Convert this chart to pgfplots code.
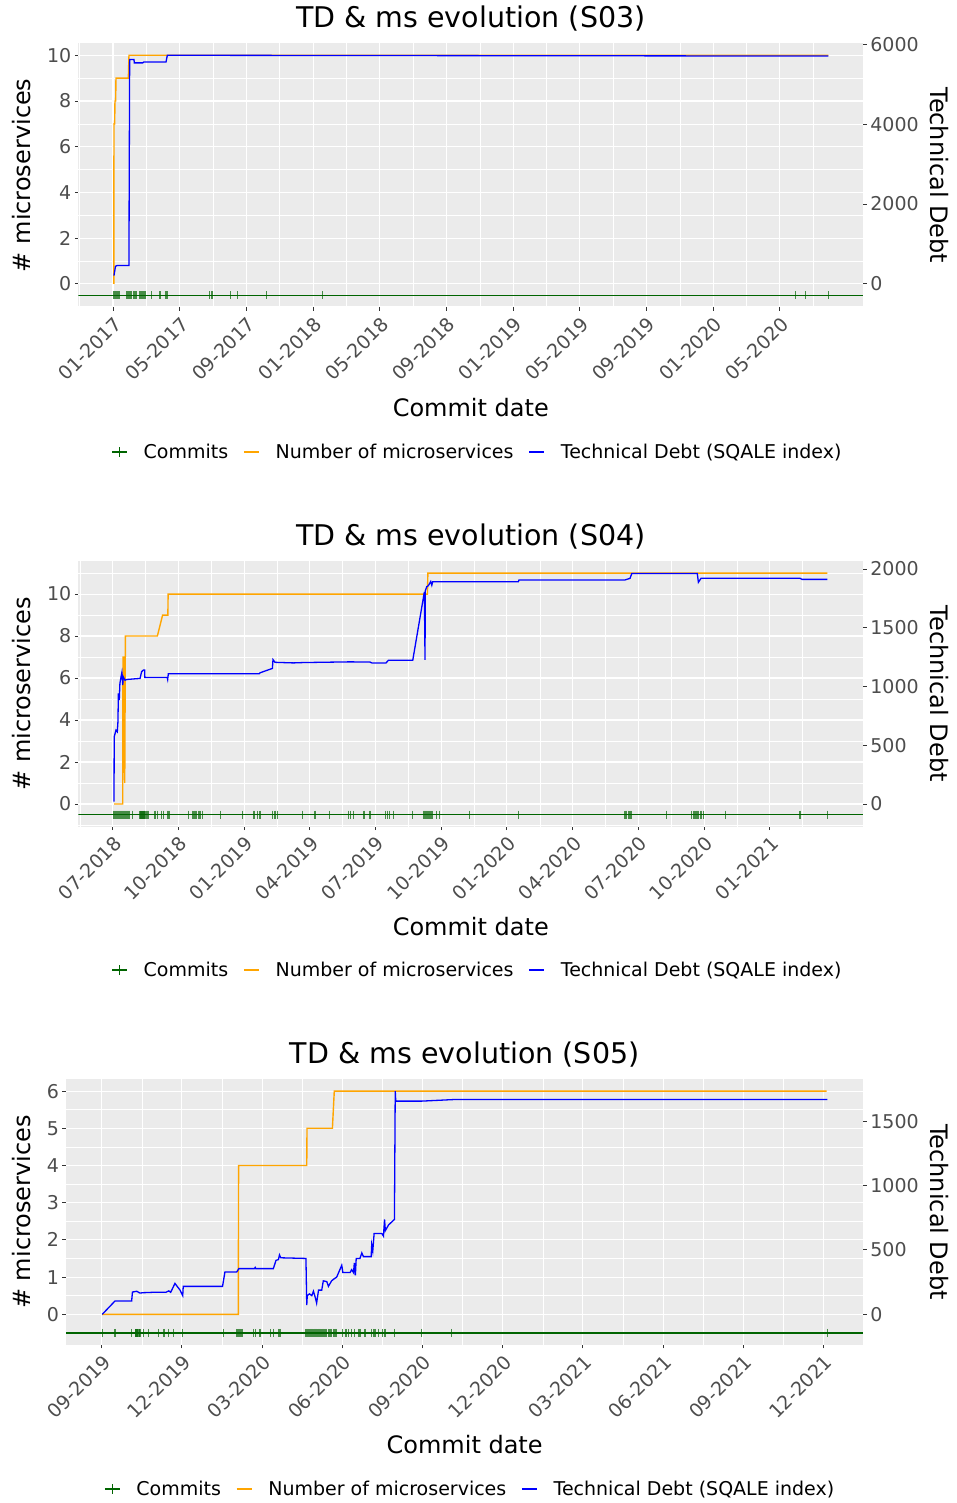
\documentclass[border=0pt]{standalone}
\usepackage{pgfplots}
\pgfplotsset{compat=1.18}
\usepackage{fontspec}
\setmainfont{DejaVu Sans}

\definecolor{ggbg}{HTML}{EBEBEB}
\definecolor{ticktext}{HTML}{4D4D4D}
\definecolor{tickline}{HTML}{333333}
\definecolor{commitgreen}{HTML}{006400}
\definecolor{msorange}{HTML}{FFA500}
\definecolor{tdblue}{HTML}{0000FF}

\newcommand\titlefont{\fontsize{28.5}{33}\selectfont}
\newcommand\labelfont{\fontsize{24}{28}\selectfont}
\newcommand\tickfont{\fontsize{19}{22}\selectfont}
\newcommand\legendfont{\fontsize{19}{22}\selectfont}

\pgfplotsset{
  ggbase/.style={
    scale only axis,
    axis line style={draw=none},
    tick align=outside,
    major tick length=3.5pt,
    minor tick length=0pt,
    tick style={tickline, line width=0.9pt},
    tick label style={font=\tickfont, text=ticktext},
    /pgf/number format/assume math mode=true,
    /pgf/number format/1000 sep={},
  },
  ggleft/.style={
    ggbase,
    axis background/.style={fill=ggbg},
    grid=both,
    major grid style={white, line width=1.1pt},
    minor grid style={white, line width=0.55pt},
    xtick pos=left, ytick pos=left,
    xticklabel style={rotate=45, anchor=north east},
    title style={font=\titlefont, anchor=base, at={(0.5,1.036)}},
    label style={font=\labelfont},
    xlabel={Commit date},
    ylabel={\# microservices},
  },
  ggright/.style={
    ggbase,
    axis x line=none,
    axis y line*=right,
    ylabel={Technical Debt},
    label style={font=\labelfont},
    legend style={draw=none, fill=none, font=\legendfont, legend columns=-1,
      anchor=center, inner sep=0pt,
      /tikz/every odd column/.append style={column sep=14pt},
      /tikz/every even column/.append style={column sep=13pt}},
    legend image code/.code={\draw[#1] (0pt,0pt) -- (15pt,0pt);},
  },
  msline/.style={msorange, line width=1.4pt},
  tdline/.style={tdblue, line width=1.3pt},
  commitline/.style={commitgreen, line width=1.4pt},
  commitmarks/.style={only marks, mark=|, mark size=4pt,
    mark options={commitgreen, line width=1.2pt, draw opacity=0.7}},
}

\begin{document}
\begin{tikzpicture}
\path[use as bounding box] (0pt,0pt) rectangle (956pt,1503pt);

% ---------------- S03 ----------------
\begin{axis}[ggleft,
  at={(78.3pt,1195.7pt)}, anchor=south west, width=785pt, height=264pt,
  xmin=-2.08, xmax=45.0, ymin=-1.025, ymax=10.525,
  xtick={0,4,8,12,16,20,24,28,32,36,40},
  xticklabels={01-2017,05-2017,09-2017,01-2018,05-2018,09-2018,01-2019,05-2019,09-2019,01-2020,05-2020},
  minor xtick={-2,2,6,10,14,18,22,26,30,34,38,42},
  ytick={0,2,4,6,8,10}, minor ytick={-1,1,3,5,7,9},
  title={TD \& ms evolution (S03)},
  xlabel style={at={(axis description cs:0.5,-0.378)}, anchor=center},
  ylabel style={at={(axis description cs:-0.0717,0.5)}, anchor=center},
]
\addplot[commitline] coordinates {(-2.08,-0.5) (45.0,-0.5)};
\addplot[commitmarks] coordinates {
(0.02,-0.5) (0.09,-0.5) (0.15,-0.5) (0.22,-0.5) (0.3,-0.5) (0.38,-0.5)
(0.82,-0.5) (0.88,-0.5) (0.94,-0.5) (1.0,-0.5) (1.06,-0.5) (1.12,-0.5)
(1.26,-0.5) (1.38,-0.5) (1.58,-0.5) (1.64,-0.5) (1.7,-0.5) (1.76,-0.5)
(1.82,-0.5) (1.88,-0.5) (1.94,-0.5) (2.32,-0.5) (2.82,-0.5) (3.18,-0.5)
(3.26,-0.5) (5.78,-0.5) (5.94,-0.5) (7.06,-0.5) (7.48,-0.5) (9.22,-0.5)
(12.58,-0.5) (40.91,-0.5) (41.51,-0.5) (42.9,-0.5)};
\addplot[msline] coordinates {
(0.05,0) (0.06,7) (0.1,7) (0.12,8) (0.16,8) (0.18,9) (0.92,9) (0.96,10) (42.9,10)};
\end{axis}
\begin{axis}[ggright,
  at={(78.3pt,1195.7pt)}, anchor=south west, width=785pt, height=264pt,
  xmin=-2.08, xmax=45.0, ymin=-587.3, ymax=6030.8,
  ytick={0,2000,4000,6000},
  ylabel style={at={(axis description cs:1.097,0.5)}, anchor=center, rotate=180},
  legend style={at={(0.5085,-0.548)}},
]
\addlegendimage{legend image code/.code={
  \draw[commitgreen, line width=1.2pt] (0pt,0pt) -- (15pt,0pt) (7.5pt,-5pt) -- (7.5pt,5pt);}}
\addlegendentry{Commits}
\addlegendimage{msline}
\addlegendentry{Number of microservices}
\addplot[tdline] coordinates {
(0.06,207) (0.15,441) (0.25,458) (0.96,458) (0.97,2160) (1.0,5622) (1.26,5622)
(1.28,5539) (1.78,5539) (1.84,5560) (3.18,5560) (3.26,5730) (42.9,5710)};
\addlegendentry{Technical Debt (SQALE index)}
\end{axis}

% ---------------- S04 ----------------
\begin{axis}[ggleft,
  at={(78.3pt,676.4pt)}, anchor=south west, width=785pt, height=265.6pt,
  xmin=-1.57, xmax=34.27, ymin=-1.075, ymax=11.575,
  xtick={0,3,6,9,12,15,18,21,24,27,30},
  xticklabels={07-2018,10-2018,01-2019,04-2019,07-2019,10-2019,01-2020,04-2020,07-2020,10-2020,01-2021},
  minor xtick={-1.5,1.5,4.5,7.5,10.5,13.5,16.5,19.5,22.5,25.5,28.5,31.5},
  ytick={0,2,4,6,8,10}, minor ytick={-1,1,3,5,7,9,11},
  title={TD \& ms evolution (S04)},
  xlabel style={at={(axis description cs:0.5,-0.378)}, anchor=center},
  ylabel style={at={(axis description cs:-0.0717,0.5)}, anchor=center},
]
\addplot[commitline] coordinates {(-1.57,-0.5) (34.27,-0.5)};
\addplot[commitmarks] coordinates {
(0.03,-0.5) (0.07,-0.5) (0.12,-0.5) (0.16,-0.5) (0.21,-0.5) (0.26,-0.5)
(0.3,-0.5) (0.35,-0.5) (0.39,-0.5) (0.44,-0.5) (0.48,-0.5) (0.53,-0.5)
(0.58,-0.5) (0.62,-0.5) (0.67,-0.5) (0.71,-0.5) (0.76,-0.5) (0.91,-0.5)
(1.25,-0.5) (1.29,-0.5) (1.34,-0.5) (1.38,-0.5) (1.43,-0.5) (1.47,-0.5)
(1.52,-0.5) (1.58,-0.5) (1.64,-0.5) (1.93,-0.5) (2.04,-0.5) (2.24,-0.5)
(2.31,-0.5) (2.49,-0.5) (2.54,-0.5) (2.58,-0.5) (3.45,-0.5) (3.65,-0.5)
(3.71,-0.5) (3.77,-0.5) (3.84,-0.5) (3.9,-0.5) (3.96,-0.5) (4.02,-0.5)
(4.11,-0.5) (4.91,-0.5) (5.94,-0.5) (6.42,-0.5) (6.48,-0.5) (6.6,-0.5)
(6.73,-0.5) (7.31,-0.5) (7.41,-0.5) (7.52,-0.5) (8.68,-0.5) (9.24,-0.5)
(9.89,-0.5) (10.76,-0.5) (10.84,-0.5) (10.99,-0.5) (11.47,-0.5) (11.72,-0.5)
(11.78,-0.5) (12.47,-0.5) (12.54,-0.5) (12.63,-0.5) (12.81,-0.5) (13.7,-0.5)
(14.18,-0.5) (14.23,-0.5) (14.27,-0.5) (14.32,-0.5) (14.37,-0.5) (14.41,-0.5)
(14.46,-0.5) (14.5,-0.5) (14.55,-0.5) (14.61,-0.5) (14.79,-0.5) (14.91,-0.5)
(16.28,-0.5) (18.52,-0.5) (23.39,-0.5) (23.47,-0.5) (23.54,-0.5) (23.62,-0.5)
(23.7,-0.5) (25.3,-0.5) (26.44,-0.5) (26.54,-0.5) (26.63,-0.5) (26.69,-0.5)
(26.76,-0.5) (26.82,-0.5) (26.89,-0.5) (26.97,-0.5) (27.96,-0.5) (31.38,-0.5)
(32.63,-0.5)};
\addplot[msline] coordinates {
(0.06,0) (0.46,0) (0.47,7) (0.53,7) (0.55,1) (0.58,8) (2.04,8) (2.28,9)
(2.52,9) (2.53,10) (14.37,10) (14.39,11) (32.63,11)};
\end{axis}
\begin{axis}[ggright,
  at={(78.3pt,676.4pt)}, anchor=south west, width=785pt, height=265.6pt,
  xmin=-1.57, xmax=34.27, ymin=-192.1, ymax=2068.5,
  ytick={0,500,1000,1500,2000},
  ylabel style={at={(axis description cs:1.097,0.5)}, anchor=center, rotate=180},
  legend style={at={(0.5085,-0.54)}},
]
\addlegendimage{legend image code/.code={
  \draw[commitgreen, line width=1.2pt] (0pt,0pt) -- (15pt,0pt) (7.5pt,-5pt) -- (7.5pt,5pt);}}
\addlegendentry{Commits}
\addlegendimage{msline}
\addlegendentry{Number of microservices}
\addplot[tdline] coordinates {
(0.06,20) (0.07,572) (0.15,629) (0.21,615) (0.24,700) (0.26,942) (0.3,885)
(0.33,1027) (0.38,1081) (0.42,1120) (0.46,1013) (0.48,1083) (0.56,1054)
(0.64,1060) (1.25,1069) (1.32,1126) (1.4,1140) (1.46,1140) (1.47,1076)
(2.49,1076) (2.51,1060) (2.54,1108) (6.69,1108) (6.73,1117) (7.29,1154)
(7.32,1229) (7.41,1206) (8.25,1201) (8.7,1204) (10.84,1210) (11.75,1208)
(11.83,1201) (12.48,1201) (12.59,1224) (13.7,1224) (14.23,1805) (14.26,1226)
(14.27,1814) (14.34,1850) (14.41,1858) (14.52,1894) (14.57,1862) (14.61,1892)
(18.52,1892) (18.55,1907) (23.39,1907) (23.62,1921) (23.7,1962) (26.69,1962)
(26.74,1887) (26.86,1921) (31.38,1921) (31.47,1912) (32.63,1912)};
\addlegendentry{Technical Debt (SQALE index)}
\end{axis}

% ---------------- S05 ----------------
\begin{axis}[ggleft,
  at={(66pt,158pt)}, anchor=south west, width=797.3pt, height=266pt,
  xmin=-1.336, xmax=28.49, ymin=-0.825, ymax=6.325,
  xtick={0,3,6,9,12,15,18,21,24,27},
  xticklabels={09-2019,12-2019,03-2020,06-2020,09-2020,12-2020,03-2021,06-2021,09-2021,12-2021},
  minor xtick={1.5,4.5,7.5,10.5,13.5,16.5,19.5,22.5,25.5},
  ytick={0,1,2,3,4,5,6}, minor ytick={-0.5,0.5,1.5,2.5,3.5,4.5,5.5},
  title={TD \& ms evolution (S05)},
  xlabel style={at={(axis description cs:0.5,-0.3747)}, anchor=center},
  ylabel style={at={(axis description cs:-0.0552,0.5)}, anchor=center},
]
\addplot[commitline] coordinates {(-1.336,-0.5) (28.49,-0.5)};
\addplot[commitmarks] coordinates {
(0.02,-0.5) (0.5,-0.5) (1.12,-0.5) (1.25,-0.5) (1.28,-0.5) (1.32,-0.5)
(1.36,-0.5) (1.4,-0.5) (1.43,-0.5) (1.56,-0.5) (1.74,-0.5) (2.12,-0.5)
(2.33,-0.5) (2.51,-0.5) (2.7,-0.5) (3.03,-0.5) (4.55,-0.5) (5.05,-0.5)
(5.1,-0.5) (5.15,-0.5) (5.2,-0.5) (5.25,-0.5) (5.67,-0.5) (5.74,-0.5)
(5.92,-0.5) (6.32,-0.5) (6.42,-0.5) (6.61,-0.5) (6.67,-0.5) (7.64,-0.5)
(7.69,-0.5) (7.74,-0.5) (7.79,-0.5) (7.84,-0.5) (7.89,-0.5) (7.94,-0.5)
(7.99,-0.5) (8.04,-0.5) (8.09,-0.5) (8.14,-0.5) (8.19,-0.5) (8.24,-0.5)
(8.29,-0.5) (8.35,-0.5) (8.41,-0.5) (8.48,-0.5) (8.54,-0.5) (8.6,-0.5)
(8.66,-0.5) (8.73,-0.5) (8.79,-0.5) (9.02,-0.5) (9.14,-0.5) (9.23,-0.5)
(9.35,-0.5) (9.45,-0.5) (9.6,-0.5) (9.66,-0.5) (9.85,-0.5) (10.1,-0.5)
(10.16,-0.5) (10.22,-0.5) (10.35,-0.5) (10.51,-0.5) (10.6,-0.5) (10.95,-0.5)
(11.97,-0.5) (13.09,-0.5) (27.15,-0.5)};
\addplot[msline] coordinates {
(0.02,0) (5.11,0) (5.12,4) (7.67,4) (7.68,5) (8.63,5) (8.7,6) (27.12,6)};
\end{axis}
\begin{axis}[ggright,
  at={(66pt,158pt)}, anchor=south west, width=797.3pt, height=266pt,
  xmin=-1.336, xmax=28.49, ymin=-238.4, ymax=1827.9,
  ytick={0,500,1000,1500},
  ylabel style={at={(axis description cs:1.0953,0.5)}, anchor=center, rotate=180},
  legend style={at={(0.507,-0.541)}},
]
\addlegendimage{legend image code/.code={
  \draw[commitgreen, line width=1.2pt] (0pt,0pt) -- (15pt,0pt) (7.5pt,-5pt) -- (7.5pt,5pt);}}
\addlegendentry{Commits}
\addlegendimage{msline}
\addlegendentry{Number of microservices}
\addplot[tdline] coordinates {
(0.02,0) (0.5,104) (1.12,104) (1.15,173) (1.31,179) (1.43,165) (1.56,168)
(1.93,171) (2.4,171) (2.51,182) (2.58,171) (2.74,240) (2.93,188) (3.03,145)
(3.05,217) (4.52,217) (4.61,329) (5.05,329) (5.13,355) (5.71,355) (5.74,364)
(5.76,355) (6.42,355) (6.52,419) (6.61,425) (6.65,462) (6.7,439) (7.64,434)
(7.67,72) (7.69,145) (7.77,159) (7.86,145) (7.92,179) (7.99,130) (8.04,87)
(8.11,188) (8.23,188) (8.29,260) (8.42,254) (8.48,217) (8.6,260) (8.69,275)
(8.79,289) (8.98,381) (9.02,324) (9.29,324) (9.35,347) (9.42,324) (9.45,399)
(9.49,303) (9.52,434) (9.66,434) (9.73,477) (9.79,448) (10.08,448) (10.1,540)
(10.14,491) (10.19,627) (10.48,627) (10.54,607) (10.58,737) (10.61,650)
(10.73,694) (10.95,737) (10.98,1734) (11.0,1656) (11.97,1656) (13.15,1668)
(27.15,1668)};
\addlegendentry{Technical Debt (SQALE index)}
\end{axis}
\end{tikzpicture}
\end{document}
